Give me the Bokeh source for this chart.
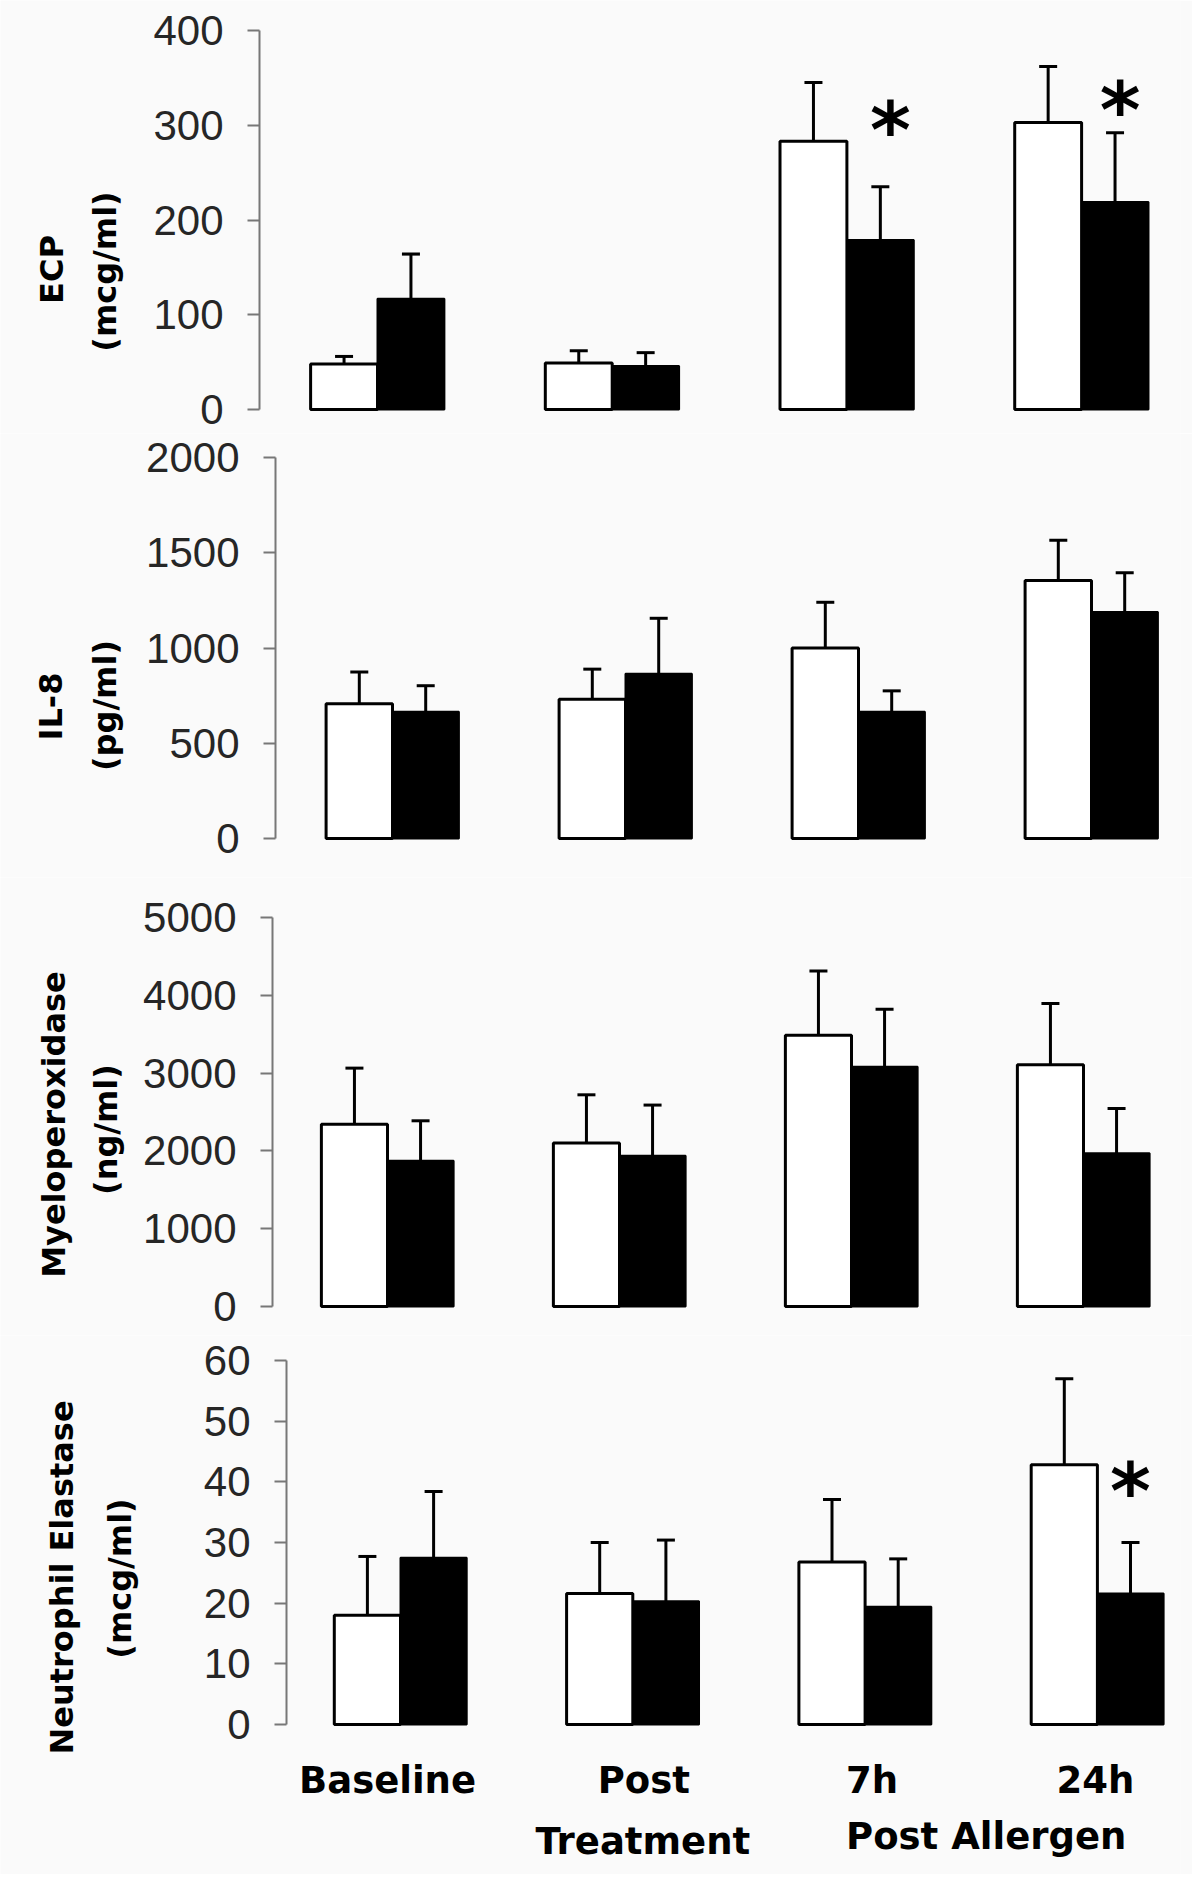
import math
from bokeh.plotting import figure
from bokeh.models import Range1d, FixedTicker, Whisker, TeeHead, ColumnDataSource
from bokeh.core.properties import value
from bokeh.embed import file_html
from bokeh.resources import INLINE

# ---------------- data ----------------
categories = ["Baseline", "Post Treatment", "7h", "24h"]

ecp_white = [48, 49, 283, 303]
ecp_white_se = [8, 13, 62, 59]
ecp_black = [117, 46, 179, 219]
ecp_black_se = [47, 14, 56, 73]
ecp_star = [None, None, 305, 326]
ecp_ticks = [0, 100, 200, 300, 400]
ecp_title = ["ECP", "(mcg/ml)"]

il8_white = [707, 731, 1000, 1354]
il8_white_se = [167, 158, 240, 212]
il8_black = [666, 865, 666, 1189]
il8_black_se = [136, 291, 109, 206]
il8_star = [None, None, None, None]
il8_ticks = [0, 500, 1000, 1500, 2000]
il8_title = ["IL-8", "(pg/ml)"]

mpo_white = [2344, 2100, 3488, 3107]
mpo_white_se = [720, 621, 823, 788]
mpo_black = [1873, 1937, 3081, 1971]
mpo_black_se = [514, 652, 741, 574]
mpo_star = [None, None, None, None]
mpo_ticks = [0, 1000, 2000, 3000, 4000, 5000]
mpo_title = ["Myeloperoxidase", "(ng/ml)"]

ne_white = [18.0, 21.6, 26.8, 42.8]
ne_white_se = [9.7, 8.4, 10.3, 14.2]
ne_black = [27.5, 20.3, 19.4, 21.6]
ne_black_se = [10.9, 10.1, 7.9, 8.4]
ne_star = [None, None, None, 40]
ne_ticks = [0, 10, 20, 30, 40, 50, 60]
ne_title = ["Neutrophil Elastase", "(mcg/ml)"]

x_line1 = ["Baseline", "Post", "7h", "24h"]
x_line2 = ["Treatment", "Post Allergen"]

# ---------------- layout / style ----------------
BG = "#fafafa"
W = 1192
FRAME_RIGHT = 1180          # page px
BAR_W = 0.285
TICK_FONT = "Liberation Sans"
TITLE_FONT = "DejaVu Sans"


def make_panel(white, white_se, black, black_se, stars, ticks, title,
               axis_px, c0_px, step_px, fig_top, top_tick_px, zero_px, fig_bottom,
               title_pos, star_dx):
    """Pixel layout in page px; title_pos: [(center_x, center_y), ...] of the title lines."""
    def X(px):                       # page px -> data x
        return (px - c0_px) / step_px
    ppu = (zero_px - top_tick_px) / ticks[-1]          # px per data unit

    def Y(py):                       # page px -> data y
        return (zero_px - py) / ppu

    # the frame covers the whole figure; the axis is placed inside it
    p = figure(width=W, height=fig_bottom - fig_top,
               x_range=Range1d(X(0), X(FRAME_RIGHT)),
               y_range=Range1d(Y(fig_bottom), Y(fig_top)),
               output_backend="svg", toolbar_location=None, x_axis_location=None,
               min_border_left=0, min_border_right=W - FRAME_RIGHT,
               min_border_top=0, min_border_bottom=0)
    p.background_fill_color = BG
    p.border_fill_color = BG
    p.outline_line_color = None
    p.grid.visible = False

    idx = list(range(len(categories)))
    src = ColumnDataSource(dict(
        xw=[i - BAR_W / 2 for i in idx],
        xb=[i + BAR_W / 2 for i in idx],
        white=white, black=black,
        wtop=[v + e for v, e in zip(white, white_se)],
        btop=[v + e for v, e in zip(black, black_se)],
    ))
    p.vbar(x="xb", top="black", width=BAR_W, bottom=0, source=src,
           fill_color="black", line_color="black", line_width=2)
    p.vbar(x="xw", top="white", width=BAR_W, bottom=0, source=src,
           fill_color="white", line_color="black", line_width=3)
    for base, low, up in (("xw", "white", "wtop"), ("xb", "black", "btop")):
        w = Whisker(base=base, lower=low, upper=up, source=src,
                    dimension="height", line_color="black", line_width=3,
                    upper_head=TeeHead(size=18, line_color="black", line_width=3),
                    lower_head=None)
        p.add_layout(w)

    sx = [i + BAR_W / 2 for i, s in zip(idx, stars) if s is not None]
    sy = [s for s in stars if s is not None]
    if sx:
        p.text(x=sx, y=sy, text=["*"] * len(sx), x_offset=star_dx,
               text_font=value(TITLE_FONT), text_font_style="bold",
               text_font_size="78px", text_align="center",
               text_baseline="middle", y_offset=10, text_color="black")

    ax = p.yaxis[0]
    ax.fixed_location = X(axis_px)
    ax.ticker = FixedTicker(ticks=ticks)
    ax.bounds = (0, ticks[-1])
    ax.minor_tick_line_color = None
    ax.major_tick_in = 0
    ax.major_tick_out = 12
    ax.major_tick_line_color = "#777777"
    ax.major_tick_line_width = 2
    ax.axis_line_color = "#777777"
    ax.axis_line_width = 2
    ax.major_label_text_font = TICK_FONT
    ax.major_label_text_font_size = "42px"
    ax.major_label_text_color = "#262626"
    ax.major_label_standoff = 24

    # two-line rotated axis title
    p.text(x=[X(cx) for cx, _ in title_pos], y=[Y(cy) for _, cy in title_pos],
           text=title, angle=math.pi / 2,
           text_font=value(TITLE_FONT), text_font_style="bold",
           text_font_size="32px", text_align="center", text_baseline="middle",
           text_color="black")
    return p, X, Y


p1, _, _ = make_panel(ecp_white, ecp_white_se, ecp_black, ecp_black_se, ecp_star, ecp_ticks,
                      ecp_title, 259, 377, 234.7, 0, 30, 409, 433,
                      [(51, 269), (104, 271)], [10, 5])
p2, _, _ = make_panel(il8_white, il8_white_se, il8_black, il8_black_se, il8_star, il8_ticks,
                      il8_title, 275, 392, 233.0, 433, 457, 838, 877,
                      [(50, 706), (104, 705)], [])
p3, _, _ = make_panel(mpo_white, mpo_white_se, mpo_black, mpo_black_se, mpo_star, mpo_ticks,
                      mpo_title, 272, 387, 232.0, 877, 917, 1306, 1335,
                      [(53, 1124), (105, 1129)], [])
p4, X4, Y4 = make_panel(ne_white, ne_white_se, ne_black, ne_black_se, ne_star, ne_ticks,
                        ne_title, 286, 400, 232.3, 1335, 1360, 1724, 1874,
                        [(61, 1577), (119, 1578)], [0])

# category labels below the bottom panel
lab_font = dict(text_font=value(TITLE_FONT), text_font_style="bold",
                text_font_size="37px", text_align="center",
                text_baseline="middle", text_color="black")
p4.text(x=[0, 1, 2, 3], y=[Y4(1780)] * 4, text=x_line1,
        x_offset=[-13, 11, 7, -2], **lab_font)
p4.text(x=[1, 2.5], y=[Y4(1841), Y4(1836)],
        text=x_line2, x_offset=[10, 5], **lab_font)

open("out.html", "w").write(file_html([p1, p2, p3, p4], INLINE))
